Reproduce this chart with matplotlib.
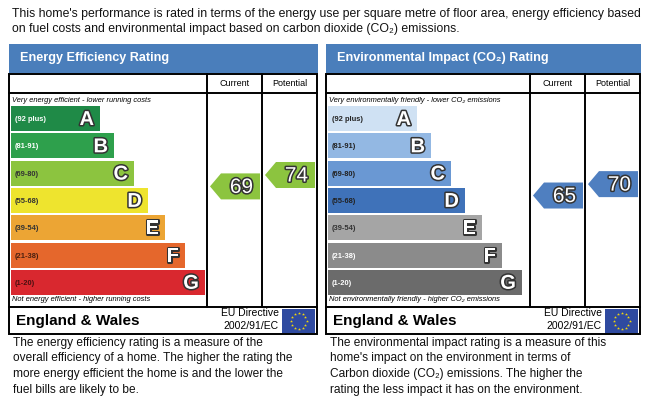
import numpy as np
import matplotlib
matplotlib.use("Agg")
import matplotlib.pyplot as plt
from matplotlib.patches import Rectangle, Polygon
import matplotlib.patheffects as pe

plt.rcParams['font.family'] = ['Liberation Sans', 'DejaVu Sans']

# data
bands = ['A', 'B', 'C', 'D', 'E', 'F', 'G']
ranges = ['(92 plus)', '(81-91)', '(69-80)', '(55-68)', '(39-54)', '(21-38)', '(1-20)']
ee_colors = ['#1f8a47', '#2ea04c', '#8cc43f', '#eee42e', '#eca534', '#e5672c', '#d9282f']
ei_colors = ['#cfe1f3', '#93b8e3', '#6a98d3', '#3f72b9', '#a5a5a5', '#8b8b8b', '#6b6b6b']
ee_range_txt = ['white', 'white', '#333333', '#333333', '#333333', '#4a2010', '#4a1010']
ei_range_txt = ['#222222', '#222222', '#222222', '#222222', '#333333', 'white', 'white']
ee_current, ee_potential = 69, 74
ei_current, ei_potential = 65, 70
ee_arrow_col = '#8cc43f'
ei_arrow_col = '#4f7fc0'

titles = ['Energy Efficiency Rating', 'Environmental Impact (CO\u2082) Rating']
top_note = ['Very energy efficient - lower running costs',
            'Very environmentally friendly - lower CO\u2082 emissions']
bottom_note = ['Not energy efficient - higher running costs',
               'Not environmentally friendly - higher CO\u2082 emissions']
paragraphs = [
    ['The energy efficiency rating is a measure of the',
     'overall efficiency of a home. The higher the rating the',
     'more energy efficient the home is and the lower the',
     'fuel bills are likely to be.'],
    ['The environmental impact rating is a measure of this',
     "home's impact on the environment in terms of",
     'Carbon dioxide (CO\u2082) emissions. The higher the',
     'rating the less impact it has on the environment.'],
]
intro = ["This home's performance is rated in terms of the energy use per square metre of floor area, energy efficiency based",
         'on fuel costs and environmental impact based on carbon dioxide (CO\u2082) emissions.']

# layout (pixels)
bar_len = [89, 103, 123, 137, 154, 174, 194]
panels = [(9, 317), (326, 640)]

fig = plt.figure(figsize=(6.56, 4.0), dpi=100)
ax = fig.add_axes([0, 0, 1, 1])
ax.set_xlim(0, 656)
ax.set_ylim(400, 0)
ax.axis('off')

for i, line in enumerate(intro):
    ax.text(12, 14.5 + i * 14.5, line, fontsize=8.8, va='center', ha='left', color='#111111')

outline = [pe.withStroke(linewidth=2.2, foreground='#333333')]


def score_y(v):
    return 175 + (74 - v) * 2.28


def draw_panel(k, colors, rtxt, cur, pot, acol):
    x0, x1 = panels[k]
    c1, c2 = x1 - 110, x1 - 55
    # header
    ax.add_patch(Rectangle((x0, 44), x1 - x0 + 1, 29, facecolor='#4a7ebb', edgecolor='none'))
    ax.text(x0 + 11, 58.5, titles[k], color='white', fontsize=9.1, fontweight='bold', va='center')
    # table lines
    lw = 1.4
    ax.add_patch(Rectangle((x0, 74), x1 - x0, 260, facecolor='none', edgecolor='black', lw=lw))
    ax.plot([x0, x1], [93, 93], color='black', lw=lw)
    ax.plot([x0, x1], [307, 307], color='black', lw=lw)
    for cx in (c1, c2):
        ax.plot([cx, cx], [74, 307], color='black', lw=lw)
    ax.text((c1 + c2) / 2, 84, 'Current', fontsize=6.5, ha='center', va='center')
    ax.text((c2 + x1) / 2, 84, 'Potential', fontsize=6.5, ha='center', va='center')
    ax.text(x0 + 3, 101, top_note[k], fontsize=5.4, style='italic', va='center')
    ax.text(x0 + 3, 299.5, bottom_note[k], fontsize=5.4, style='italic', va='center')
    # bars
    ys = 118.5 + 27.3 * np.arange(len(bands))
    ax.barh(ys, bar_len, left=x0 + 2, height=25, color=colors, edgecolor='none')
    for y, L, b, r, tc in zip(ys, bar_len, bands, ranges, rtxt):
        ax.text(x0 + 6, y + 1, r, fontsize=5.4, fontweight='bold', color=tc, va='center')
        t = ax.text(x0 + 2 + L - 6, y + 1, b, fontsize=14.5, fontweight='bold', color='white',
                    ha='right', va='center')
        t.set_path_effects(outline)
    # arrows
    for v, left, right in ((cur, c1 + 3, c2 - 2), (pot, c2 + 3, x1 - 2)):
        yc = score_y(v)
        h = 26
        poly = Polygon([(left, yc), (left + 11, yc - h / 2), (right, yc - h / 2),
                        (right, yc + h / 2), (left + 11, yc + h / 2)],
                       closed=True, facecolor=acol, edgecolor='none')
        ax.add_patch(poly)
        t = ax.text((left + 11 + right) / 2 + 1, yc + 1, str(v), fontsize=15, color='white',
                    ha='center', va='center')
        t.set_path_effects(outline)
    # footer
    ax.text(x0 + 7, 321, 'England & Wales', fontsize=11, fontweight='bold', va='center')
    ax.text(x1 - 38, 313, 'EU Directive', fontsize=7.5, ha='right', va='center')
    ax.text(x1 - 38, 326, '2002/91/EC', fontsize=7.5, ha='right', va='center')
    fx0, fx1, fy0, fy1 = x1 - 35, x1 - 2, 309, 333
    ax.add_patch(Rectangle((fx0, fy0), fx1 - fx0, fy1 - fy0, facecolor='#2f4aa0', edgecolor='none'))
    ang = np.linspace(0, 2 * np.pi, 13)[:-1]
    ax.scatter((fx0 + fx1) / 2 + 8 * np.cos(ang), (fy0 + fy1) / 2 + 8 * np.sin(ang),
               marker='*', s=5, color='#f5d90a', zorder=5, linewidths=0)
    # paragraph
    for i, line in enumerate(paragraphs[k]):
        ax.text(x0 + 4, 343 + i * 15.5, line, fontsize=8.6, va='center', color='#111111')


draw_panel(0, ee_colors, ee_range_txt, ee_current, ee_potential, ee_arrow_col)
draw_panel(1, ei_colors, ei_range_txt, ei_current, ei_potential, ei_arrow_col)

fig.savefig('out.png', dpi=100)
